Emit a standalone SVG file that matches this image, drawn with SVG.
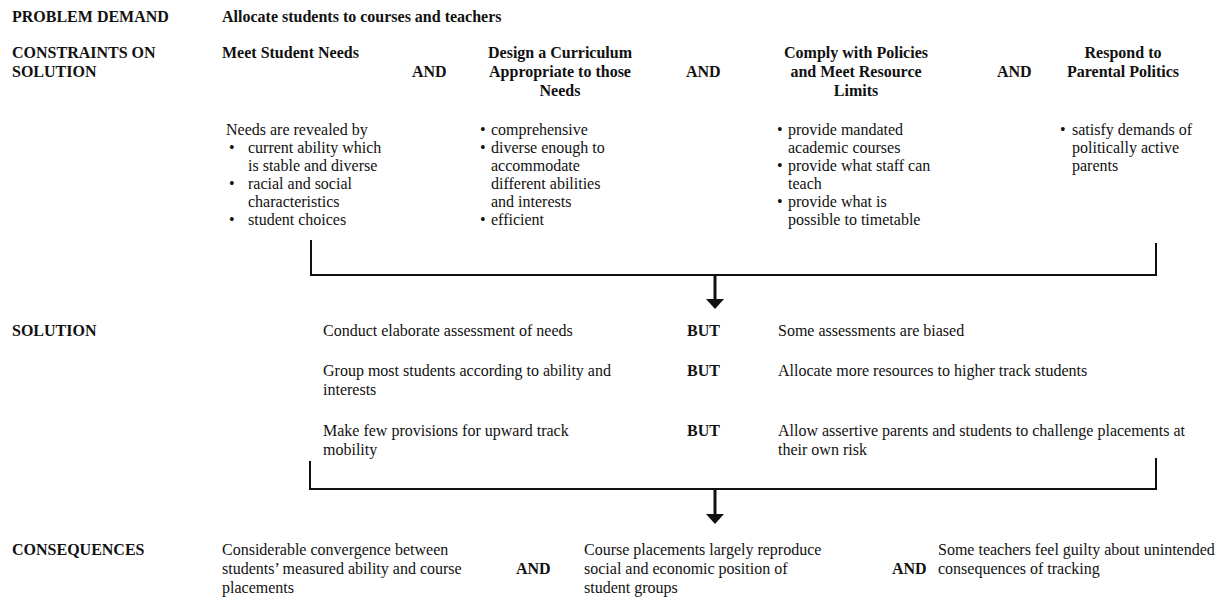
<svg xmlns="http://www.w3.org/2000/svg" width="1223" height="603" viewBox="0 0 1223 603">
  <style>
    text { font-family: "Liberation Serif", "Times New Roman", serif; font-size: 16px; fill: #111; }
    .b { font-weight: bold; }
    .c { text-anchor: middle; }
    .line { stroke: #111; stroke-width: 2; fill: none; }
    .shaft { stroke: #111; stroke-width: 3; fill: none; }
  </style>
  <defs>
    <!-- downward arrowhead, drawn pointing along +x so orient="auto" turns it to the line -->
    <marker id="head" viewBox="0 0 10 18" refX="0" refY="9" markerWidth="10" markerHeight="18" markerUnits="userSpaceOnUse" orient="auto">
      <path d="M0,0 L10,9 L0,18 Z" fill="#111"/>
    </marker>
  </defs>
  <rect width="1223" height="603" fill="#fff"/>

  <!-- row labels -->
  <g id="row-labels">
    <text class="b" x="12" y="22">PROBLEM DEMAND</text>
    <text class="b" x="12" y="58">CONSTRAINTS ON<tspan x="12" y="77">SOLUTION</tspan></text>
    <text class="b" x="12" y="336">SOLUTION</text>
    <text class="b" x="12" y="555">CONSEQUENCES</text>
  </g>

  <g id="problem-demand">
    <text class="b" x="222" y="22">Allocate students to courses and teachers</text>
  </g>

  <!-- constraints -->
  <g id="constraint-needs">
    <text class="b" x="222" y="58">Meet Student Needs</text>
    <text x="226" y="135">Needs are revealed by</text>
    <text><tspan x="229" y="153">•</tspan><tspan x="248" y="153">current ability which</tspan><tspan x="248" y="171">is stable and diverse</tspan><tspan x="229" y="189">•</tspan><tspan x="248" y="189">racial and social</tspan><tspan x="248" y="207">characteristics</tspan><tspan x="229" y="225">•</tspan><tspan x="248" y="225">student choices</tspan></text>
  </g>
  <g id="and-1"><text class="b" x="412" y="77">AND</text></g>

  <g id="constraint-curriculum">
    <text class="b c" x="560" y="58">Design a Curriculum<tspan x="560" y="77">Appropriate to those</tspan><tspan x="560" y="96">Needs</tspan></text>
    <text><tspan x="480" y="135">•</tspan><tspan x="491" y="135">comprehensive</tspan><tspan x="480" y="153">•</tspan><tspan x="491" y="153">diverse enough to</tspan><tspan x="491" y="171">accommodate</tspan><tspan x="491" y="189">different abilities</tspan><tspan x="491" y="207">and interests</tspan><tspan x="480" y="225">•</tspan><tspan x="491" y="225">efficient</tspan></text>
  </g>
  <g id="and-2"><text class="b" x="686" y="77">AND</text></g>

  <g id="constraint-policies">
    <text class="b c" x="856" y="58">Comply with Policies<tspan x="856" y="77">and Meet Resource</tspan><tspan x="856" y="96">Limits</tspan></text>
    <text><tspan x="777" y="135">•</tspan><tspan x="788" y="135">provide mandated</tspan><tspan x="788" y="153">academic courses</tspan><tspan x="777" y="171">•</tspan><tspan x="788" y="171">provide what staff can</tspan><tspan x="788" y="189">teach</tspan><tspan x="777" y="207">•</tspan><tspan x="788" y="207">provide what is</tspan><tspan x="788" y="225">possible to timetable</tspan></text>
  </g>
  <g id="and-3"><text class="b" x="997" y="77">AND</text></g>

  <g id="constraint-parents">
    <text class="b c" x="1123" y="58">Respond to<tspan x="1123" y="77">Parental Politics</tspan></text>
    <text><tspan x="1060" y="135">•</tspan><tspan x="1072" y="135">satisfy demands of</tspan><tspan x="1072" y="153">politically active</tspan><tspan x="1072" y="171">parents</tspan></text>
  </g>

  <!-- solution rows -->
  <g id="solution-assessment">
    <text x="323" y="336">Conduct elaborate assessment of needs</text>
    <text class="b" x="687" y="336">BUT</text>
    <text x="778" y="336">Some assessments are biased</text>
  </g>
  <g id="solution-grouping">
    <text x="323" y="376">Group most students according to ability and<tspan x="323" y="395">interests</tspan></text>
    <text class="b" x="687" y="376">BUT</text>
    <text x="778" y="376">Allocate more resources to higher track students</text>
  </g>
  <g id="solution-mobility">
    <text x="323" y="436">Make few provisions for upward track<tspan x="323" y="455">mobility</tspan></text>
    <text class="b" x="687" y="436">BUT</text>
    <text x="778" y="436">Allow assertive parents and students to challenge placements at<tspan x="778" y="455">their own risk</tspan></text>
  </g>

  <!-- consequences -->
  <g id="consequence-convergence">
    <text x="222" y="555">Considerable convergence between<tspan x="222" y="574">students’ measured ability and course</tspan><tspan x="222" y="593">placements</tspan></text>
  </g>
  <g id="and-4"><text class="b" x="516" y="574">AND</text></g>
  <g id="consequence-reproduction">
    <text x="584" y="555">Course placements largely reproduce<tspan x="584" y="574">social and economic position of</tspan><tspan x="584" y="593">student groups</tspan></text>
  </g>
  <g id="and-5"><text class="b" x="892" y="574">AND</text></g>
  <g id="consequence-guilt">
    <text x="938" y="555">Some teachers feel guilty about unintended<tspan x="938" y="574">consequences of tracking</tspan></text>
  </g>

  <!-- brackets and arrows -->
  <g id="connectors">
    <polyline class="line" points="311,240 311,275 1156,275 1156,243"/>
    <line class="shaft" x1="715" y1="275" x2="715" y2="299" marker-end="url(#head)"/>
    <polyline class="line" points="310,461 310,489 1156,489 1156,458"/>
    <line class="shaft" x1="715" y1="489" x2="715" y2="514" marker-end="url(#head)"/>
  </g>
</svg>
